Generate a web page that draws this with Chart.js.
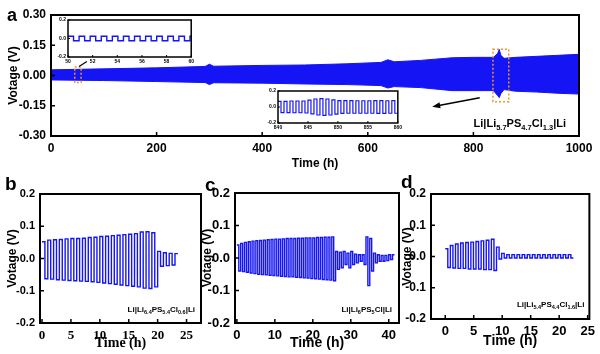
<!DOCTYPE html>
<html>
<head>
<meta charset="utf-8">
<script src="https://cdn.jsdelivr.net/npm/chart.js@4.4.1/dist/chart.umd.min.js"></script>
<style>
  body { margin: 0; background: #fff; }
  #wrap { position: relative; width: 600px; height: 354px; overflow: hidden; background: #fff; }
  canvas { position: absolute; }
</style>
</head>
<body>
<div id="wrap">
  <canvas id="chart-a" width="600" height="175" style="left:0px;top:0px"></canvas>
  <canvas id="inset-1" width="144" height="50" style="left:52px;top:15px"></canvas>
  <canvas id="inset-2" width="142" height="46" style="left:262px;top:86px"></canvas>
  <canvas id="chart-b" width="205" height="179" style="left:0px;top:175px"></canvas>
  <canvas id="chart-c" width="205" height="179" style="left:200px;top:175px"></canvas>
  <canvas id="chart-d" width="200" height="179" style="left:400px;top:175px"></canvas>
</div>
<script>
// ---- data ----
// panel a: envelope of the long cycling band (time h, voltage V)
let bandTime  = [0, 100, 200, 292, 300, 308, 400, 480, 560, 625, 638, 650, 700, 760, 800, 838, 846, 849, 852, 858, 880, 920, 960, 1000];
let bandUpper = [0.028, 0.033, 0.038, 0.045, 0.056, 0.046, 0.05, 0.052, 0.058, 0.065, 0.078, 0.068, 0.075, 0.088, 0.09, 0.09, 0.11, 0.13, 0.1, 0.085, 0.09, 0.095, 0.1, 0.105];
let bandLower = [-0.022, -0.025, -0.03, -0.035, -0.045, -0.036, -0.038, -0.042, -0.045, -0.05, -0.062, -0.055, -0.06, -0.075, -0.075, -0.075, -0.1, -0.11, -0.09, -0.07, -0.078, -0.082, -0.088, -0.092];
let ticksAX = [0, 200, 400, 600, 800, 1000];
let ticksAY = [-0.3, -0.15, 0, 0.15, 0.3];

// inset 1 (50-60 h) and inset 2 (840-860 h): per-cycle peaks
let inset1Start = 50, inset1Period = 0.9;
let inset1High = [0.025, 0.025, 0.025, 0.025, 0.025, 0.025, 0.025, 0.025, 0.025, 0.025, 0.025, 0.025];
let inset1Low  = [-0.025, -0.025, -0.025, -0.025, -0.025, -0.025, -0.025, -0.025, -0.025, -0.025, -0.025, -0.025];
let inset2Start = 840, inset2Period = 1;
let inset2High = [0.07, 0.07, 0.075, 0.075, 0.075, 0.085, 0.1, 0.105, 0.1, 0.09, 0.08, 0.08, 0.08, 0.078, 0.078, 0.078, 0.08, 0.08, 0.078, 0.08];
let inset2Low  = [-0.07, -0.07, -0.072, -0.072, -0.075, -0.085, -0.1, -0.105, -0.1, -0.09, -0.08, -0.078, -0.078, -0.078, -0.078, -0.078, -0.08, -0.08, -0.078, -0.078];
let ticksIn1X = [50, 52, 54, 56, 58, 60];
let ticksIn2X = [840, 845, 850, 855, 860];
let ticksInY = [-0.2, 0, 0.2];

// panel b
let bPeriod = 1;
let bHigh = [0.052, 0.057, 0.058, 0.059, 0.061, 0.062, 0.062, 0.063, 0.065, 0.066, 0.068, 0.069, 0.071, 0.072, 0.074, 0.075, 0.077, 0.082, 0.083, 0.08];
let bLow  = [-0.063, -0.064, -0.066, -0.067, -0.068, -0.069, -0.07, -0.071, -0.072, -0.074, -0.076, -0.078, -0.08, -0.082, -0.084, -0.086, -0.088, -0.092, -0.093, -0.088];
let bTailStart = 20;
let bTailHigh = [0.022, 0.018, 0.016, 0.015];
let bTailLow  = [-0.024, -0.022, -0.02];
let ticksBX = [0, 5, 10, 15, 20, 25];

// panel c
let cPeriod = 1;
let cHigh = [0.04, 0.045, 0.048, 0.05, 0.052, 0.053, 0.054, 0.055, 0.056, 0.057, 0.058, 0.058, 0.059, 0.06, 0.06, 0.06, 0.061, 0.061, 0.062, 0.062, 0.062, 0.063, 0.063, 0.064, 0.064, 0.065];
let cLow  = [-0.04, -0.042, -0.044, -0.046, -0.048, -0.05, -0.051, -0.052, -0.053, -0.054, -0.055, -0.056, -0.057, -0.058, -0.058, -0.059, -0.06, -0.061, -0.062, -0.063, -0.064, -0.065, -0.066, -0.067, -0.068, -0.07];
let cTailStart = 26;
let cTailHigh = [0.02, 0.018, 0.02, 0.015, 0.02, 0.012, 0.01, 0.01, 0.065, 0.06, 0.015, 0.01, 0.008, 0.008, 0.01, 0.01];
let cTailLow  = [-0.035, -0.03, -0.02, -0.03, -0.02, -0.015, -0.01, -0.02, -0.085, -0.04, -0.015, -0.01, -0.01, -0.008, -0.005];
let ticksCX = [0, 10, 20, 30, 40];

// panel d
let dPeriod = 0.9;
let dHigh = [0.025, 0.035, 0.04, 0.043, 0.045, 0.046, 0.048, 0.05, 0.052, 0.055];
let dLow  = [-0.035, -0.037, -0.038, -0.038, -0.04, -0.04, -0.04, -0.042, -0.042, -0.045];
let dTailStart = 9;
let dTailHigh = [0.03, 0.01, 0.006, 0.006, 0.006, 0.006, 0.006, 0.006, 0.006, 0.006, 0.006, 0.006, 0.006, 0.006, 0.006];
let dTailLow  = [-0.008, -0.005, -0.005, -0.005, -0.005, -0.005, -0.005, -0.005, -0.005, -0.005, -0.005, -0.005, -0.005, -0.005, -0.005];
let ticksDX = [0, 5, 10, 15, 20, 25];
let ticksBCDY = [-0.2, -0.1, 0, 0.1, 0.2];

// labels
let labelA = ["Li|Li", "5.7", "PS", "4.7", "Cl", "1.3", "|Li"];
let labelB = ["Li|Li", "6.4", "PS", "5.4", "Cl", "0.6", "|Li"];
let labelC = ["Li|Li", "6", "PS", "5", "Cl|Li"];
let labelD = ["Li|Li", "5.4", "PS", "4.4", "Cl", "1.6", "|Li"];

// annotations in panel a (data units)
let boxSmall = { x0: 45, x1: 57, y0: -0.035, y1: 0.042 };
let boxBig = { x0: 837, x1: 867, y0: -0.13, y1: 0.13 };
let connector = [[53, 0.045], [68, 0.07]];
let arrow = [[812, -0.11], [722, -0.155]];

const BLUE = "rgb(20,20,245)";
const SANS = "Arial, 'Liberation Sans', sans-serif";
const SERIF = "'Times New Roman', 'Liberation Serif', serif";

// build a square wave table from per-cycle peaks
function squareWave(t0, period, highs, lows) {
  let pts = [];
  highs.forEach((h, i) => {
    let t = t0 + i * period;
    pts.push({ x: t, y: h });
    if (i < lows.length) pts.push({ x: t + period / 2, y: lows[i] });
  });
  let last = pts[pts.length - 1];
  pts.push({ x: last.x + period / 2, y: last.y });
  return pts;
}

function drawFormula(ctx, parts, xRight, yBase, size, subSize) {
  let widths = parts.map((p, i) => {
    ctx.font = "bold " + (i % 2 ? subSize : size) + "px " + SANS;
    return ctx.measureText(p).width;
  });
  let total = widths.reduce((a, b) => a + b, 0);
  let x = xRight - total;
  ctx.fillStyle = "#000";
  ctx.textAlign = "left";
  ctx.textBaseline = "alphabetic";
  parts.forEach((p, i) => {
    ctx.font = "bold " + (i % 2 ? subSize : size) + "px " + SANS;
    ctx.fillText(p, x, yBase + (i % 2 ? size * 0.3 : 0));
    x += widths[i];
  });
}

const framePlugin = {
  id: "frame",
  afterDraw(chart, args, opts) {
    let { ctx, chartArea: a } = chart;
    ctx.save();
    ctx.strokeStyle = "#000";
    ctx.lineWidth = opts.width || 2;
    ctx.strokeRect(a.left, a.top, a.right - a.left, a.bottom - a.top);
    ctx.restore();
  },
};

const textPlugin = {
  id: "texts",
  afterDraw(chart, args, opts) {
    let { ctx, chartArea: a } = chart;
    ctx.save();
    if (opts.letter) {
      ctx.font = "bold " + opts.letter.size + "px " + SANS;
      ctx.fillStyle = "#000";
      ctx.textAlign = "left";
      ctx.textBaseline = "alphabetic";
      ctx.fillText(opts.letter.text, opts.letter.x, opts.letter.y);
    }
    if (opts.formula) {
      let f = opts.formula;
      drawFormula(ctx, f.parts, a.right - f.right, a.bottom - f.bottom, f.size, f.subSize);
    }
    ctx.restore();
  },
};

const annotePlugin = {
  id: "annote",
  afterDatasetsDraw(chart) {
    let { ctx, scales: { x, y } } = chart;
    ctx.save();
    ctx.strokeStyle = "rgb(240,150,40)";
    ctx.lineWidth = 1.5;
    ctx.setLineDash([2, 2]);
    [boxSmall, boxBig].forEach(b => {
      let px0 = x.getPixelForValue(b.x0), px1 = x.getPixelForValue(b.x1);
      let py0 = y.getPixelForValue(b.y1), py1 = y.getPixelForValue(b.y0);
      ctx.strokeRect(px0, py0, px1 - px0, py1 - py0);
    });
    ctx.setLineDash([]);
    ctx.strokeStyle = "#000";
    ctx.lineWidth = 1.2;
    ctx.beginPath();
    ctx.moveTo(x.getPixelForValue(connector[0][0]), y.getPixelForValue(connector[0][1]));
    ctx.lineTo(x.getPixelForValue(connector[1][0]), y.getPixelForValue(connector[1][1]));
    ctx.stroke();
    // arrow
    let ax0 = x.getPixelForValue(arrow[0][0]), ay0 = y.getPixelForValue(arrow[0][1]);
    let ax1 = x.getPixelForValue(arrow[1][0]), ay1 = y.getPixelForValue(arrow[1][1]);
    let ang = Math.atan2(ay1 - ay0, ax1 - ax0);
    ctx.lineWidth = 1.5;
    ctx.beginPath();
    ctx.moveTo(ax0, ay0);
    ctx.lineTo(ax1 - 4 * Math.cos(ang), ay1 - 4 * Math.sin(ang));
    ctx.stroke();
    ctx.fillStyle = "#000";
    ctx.beginPath();
    ctx.moveTo(ax1, ay1);
    ctx.lineTo(ax1 - 8 * Math.cos(ang) + 3 * Math.sin(ang), ay1 - 8 * Math.sin(ang) - 3 * Math.cos(ang));
    ctx.lineTo(ax1 - 8 * Math.cos(ang) - 3 * Math.sin(ang), ay1 - 8 * Math.sin(ang) + 3 * Math.cos(ang));
    ctx.closePath();
    ctx.fill();
    ctx.restore();
  },
};

// inward tick marks, drawn from each scale's own ticks
const innerTicks = {
  id: "innerTicks",
  afterDraw(chart, args, opts) {
    let { ctx, chartArea: a, scales: { x, y } } = chart;
    let len = opts.len || 4;
    ctx.save();
    ctx.strokeStyle = "#000";
    ctx.lineWidth = opts.width || 1.5;
    ctx.beginPath();
    x.ticks.forEach(t => {
      let px = x.getPixelForValue(t.value);
      ctx.moveTo(px, a.bottom); ctx.lineTo(px, a.bottom - len);
    });
    y.ticks.forEach(t => {
      let py = y.getPixelForValue(t.value);
      ctx.moveTo(a.left, py); ctx.lineTo(a.left + len, py);
    });
    ctx.stroke();
    ctx.restore();
  },
};

function axis(c) {
  return {
    type: "linear",
    min: c.min,
    max: c.max,
    afterBuildTicks: s => { s.ticks = c.ticks.map(v => ({ value: v })); },
    afterFit: s => { if (c.width !== undefined) s.width = c.width; if (c.height !== undefined) s.height = c.height; },
    border: { display: false },
    grid: { display: false, drawTicks: false },
    ticks: {
      color: "#000",
      padding: c.pad !== undefined ? c.pad : 5,
      maxRotation: 0,
      autoSkip: false,
      font: { family: c.family || SANS, size: c.size, weight: "bold" },
      callback: c.fmt,
    },
    title: c.title ? {
      display: true,
      text: c.title,
      color: "#000",
      padding: c.titlePad || 0,
      font: { family: c.titleFamily || SANS, size: c.titleSize, weight: "bold" },
    } : { display: false },
  };
}

function makeChart(id, datasets, cfg, extraPlugins) {
  let ctx = document.getElementById(id).getContext("2d");
  return new Chart(ctx, {
    type: "line",
    data: { datasets: datasets },
    options: {
      responsive: false,
      animation: false,
      devicePixelRatio: 1,
      layout: { padding: cfg.padding },
      plugins: {
        legend: { display: false },
        tooltip: { enabled: false },
        frame: { width: cfg.frame || 2 },
        texts: cfg.texts || {},
        innerTicks: { len: cfg.tickLen || 4, width: cfg.tickWidth || 1.5 },
      },
      scales: { x: axis(cfg.x), y: axis(cfg.y) },
    },
    plugins: [framePlugin, innerTicks, textPlugin].concat(extraPlugins || []),
  });
}

function waveSet(points, width) {
  return {
    data: points,
    borderColor: BLUE,
    borderWidth: width || 1.4,
    pointRadius: 0,
    stepped: true,
    fill: false,
  };
}

const fmt1 = v => v.toFixed(1);
const fmt2 = v => v.toFixed(2);
const fmt0 = v => String(v);

// panel a
makeChart("chart-a", [
  { data: bandTime.map((t, i) => ({ x: t, y: bandUpper[i] })), borderColor: BLUE, borderWidth: 1, pointRadius: 0, fill: false },
  { data: bandTime.map((t, i) => ({ x: t, y: bandLower[i] })), borderColor: BLUE, borderWidth: 1, pointRadius: 0, fill: "-1", backgroundColor: BLUE },
], {
  padding: { top: 15, right: 21, left: 0, bottom: 0 },
  x: { min: 0, max: 1000, ticks: ticksAX, height: 39, size: 12, fmt: fmt0, title: "Time (h)", titleSize: 12, titlePad: { top: 0, bottom: 4 } },
  y: { min: -0.3, max: 0.3, ticks: ticksAY, width: 51, size: 12, fmt: fmt2, title: "Votage (V)", titleSize: 12, titlePad: { top: 6, bottom: 0 } },
  texts: {
    letter: { text: "a", x: 7, y: 21, size: 18 },
    formula: { parts: labelA, right: 13, bottom: 9, size: 11, subSize: 7.5 },
  },
}, [annotePlugin]);

// insets
makeChart("inset-1", [waveSet(squareWave(inset1Start, inset1Period, inset1High, inset1Low), 1.4)], {
  padding: { top: 4, right: 4, left: 0, bottom: 0 },
  frame: 1.5, tickLen: 2, tickWidth: 1,
  x: { min: 50, max: 60, ticks: ticksIn1X, height: 8, size: 5, fmt: fmt0, pad: 2 },
  y: { min: -0.2, max: 0.2, ticks: ticksInY, width: 16, size: 5, fmt: fmt1, pad: 2 },
});
makeChart("inset-2", [waveSet(squareWave(inset2Start, inset2Period, inset2High, inset2Low), 1.2)], {
  padding: { top: 4, right: 4, left: 0, bottom: 0 },
  frame: 1.5, tickLen: 2, tickWidth: 1,
  x: { min: 840, max: 860, ticks: ticksIn2X, height: 9, size: 5, fmt: fmt0, pad: 2 },
  y: { min: -0.2, max: 0.2, ticks: ticksInY, width: 16, size: 5, fmt: fmt1, pad: 2 },
});

// panel b
makeChart("chart-b", [waveSet(squareWave(0, bPeriod, bHigh, bLow).concat(squareWave(bTailStart, bPeriod, bTailHigh, bTailLow)), 1.4)], {
  padding: { top: 19, right: 4, left: 0, bottom: 0 },
  x: { min: -0.35, max: 27.5, ticks: ticksBX, height: 31, size: 13, family: SERIF, fmt: fmt0, title: "Time (h)", titleSize: 14, titleFamily: SERIF, titlePad: { top: 0, bottom: 2 } },
  y: { min: -0.2, max: 0.2, ticks: ticksBCDY, width: 40, size: 11, fmt: fmt1, title: "Votage (V)", titleSize: 12, titlePad: { top: 5, bottom: 0 } },
  texts: {
    letter: { text: "b", x: 5, y: 15, size: 19 },
    formula: { parts: labelB, right: 6, bottom: 11, size: 8, subSize: 5.5 },
  },
});

// panel c
makeChart("chart-c", [waveSet(squareWave(0, cPeriod, cHigh, cLow).concat(squareWave(cTailStart, cPeriod, cTailHigh, cTailLow)), 1.4)], {
  padding: { top: 18, right: 6, left: 0, bottom: 0 },
  x: { min: -0.5, max: 42.7, ticks: ticksCX, height: 31, size: 13, fmt: fmt0, title: "Time (h)", titleSize: 14, titlePad: { top: 0, bottom: 2 } },
  y: { min: -0.2, max: 0.2, ticks: ticksBCDY, width: 35, size: 13, fmt: fmt1, title: "Votage (V)", titleSize: 12, titlePad: { top: 0, bottom: 0 } },
  texts: {
    letter: { text: "c", x: 5, y: 16, size: 19 },
    formula: { parts: labelC, right: 7, bottom: 11, size: 8, subSize: 5.5 },
  },
});

// panel d
makeChart("chart-d", [waveSet(squareWave(0, dPeriod, dHigh, dLow).concat(squareWave(dTailStart, dPeriod, dTailHigh, dTailLow)), 1.4)], {
  padding: { top: 19, right: 10, left: 0, bottom: 0 },
  x: { min: -2.5, max: 25.3, ticks: ticksDX, height: 35, size: 13, fmt: fmt0, title: "Time (h)", titleSize: 14, titlePad: { top: 0, bottom: 4 } },
  y: { min: -0.2, max: 0.2, ticks: ticksBCDY, width: 31, size: 12, fmt: fmt1, title: "Votage (V)", titleSize: 12, titlePad: { top: 0, bottom: 0 } },
  texts: {
    letter: { text: "d", x: 1, y: 13, size: 19 },
    formula: { parts: labelD, right: 5, bottom: 12, size: 8, subSize: 5.5 },
  },
});
</script>
</body>
</html>
